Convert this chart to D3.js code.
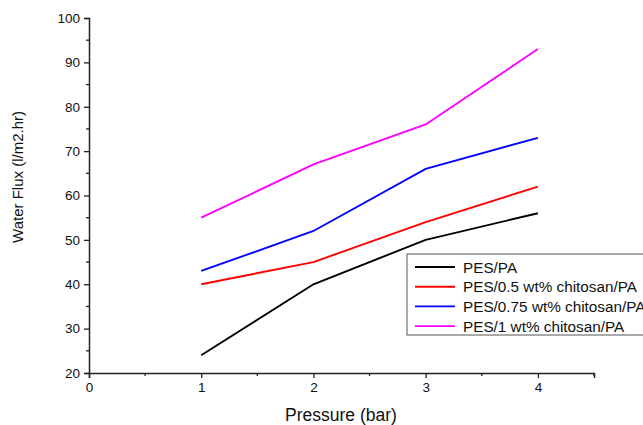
<!DOCTYPE html>
<html>
<head>
<meta charset="utf-8">
<script src="https://cdn.jsdelivr.net/npm/d3@7"></script>
<style>
  body { margin: 0; background: #fff; }
  svg { display: block; font-family: "Liberation Sans", Arial, sans-serif; }
</style>
</head>
<body>
<svg width="643" height="425"></svg>
<script>
var pressure = [1, 2, 3, 4];
var seriesNames = ["PES/PA", "PES/0.5 wt% chitosan/PA", "PES/0.75 wt% chitosan/PA", "PES/1 wt% chitosan/PA"];
var seriesColors = ["#000000", "#ff0000", "#0000ff", "#ff00ff"];
var fluxPesPa = [24, 40, 50, 56];
var flux05 = [40, 45, 54, 62];
var flux075 = [43, 52, 66, 73];
var flux1 = [55, 67, 76, 93];
var xTicks = [0, 1, 2, 3, 4];
var yTicks = [20, 30, 40, 50, 60, 70, 80, 90, 100];

var allFlux = [fluxPesPa, flux05, flux075, flux1];

var svg = d3.select("svg");

var x = d3.scaleLinear().domain([0, 4.5]).range([89, 594]);
var y = d3.scaleLinear().domain([20, 100]).range([373, 18]);

// minor ticks
var xMinor = d3.range(0.5, 4.6, 1);
var yMinor = d3.range(25, 100, 10);

svg.append("g").selectAll("line").data(xMinor).enter().append("line")
    .attr("x1", function (d) { return x(d); }).attr("x2", function (d) { return x(d); })
    .attr("y1", y(20)).attr("y2", y(20) + 3)
    .attr("stroke", "#222").attr("stroke-width", 1.3);

svg.append("g").selectAll("line").data(yMinor).enter().append("line")
    .attr("y1", function (d) { return y(d); }).attr("y2", function (d) { return y(d); })
    .attr("x1", x(0)).attr("x2", x(0) - 3)
    .attr("stroke", "#222").attr("stroke-width", 1.3);

var xAxis = d3.axisBottom(x).tickValues(xTicks).tickSize(5).tickPadding(4).tickFormat(d3.format("d"));
var yAxis = d3.axisLeft(y).tickValues(yTicks).tickSize(5).tickPadding(4);

var gx = svg.append("g").attr("transform", "translate(0," + y(20) + ")").call(xAxis);
var gy = svg.append("g").attr("transform", "translate(" + x(0) + ",0)").call(yAxis);

[gx, gy].forEach(function (g) {
    g.select(".domain").attr("stroke", "#222").attr("stroke-width", 1.5);
    g.selectAll(".tick line").attr("stroke", "#222").attr("stroke-width", 1.3);
    g.selectAll("text").style("font-size", "13.5px").attr("fill", "#111")
        .style("font-family", "'Liberation Sans', Arial, sans-serif");
});

// axis titles
svg.append("text")
    .attr("x", 341)
    .attr("y", 421)
    .attr("text-anchor", "middle")
    .style("font-size", "17.5px")
    .attr("fill", "#111")
    .text("Pressure (bar)");

svg.append("text")
    .attr("transform", "translate(23,177) rotate(-90)")
    .attr("text-anchor", "middle")
    .style("font-size", "15px")
    .attr("fill", "#111")
    .text("Water Flux (l/m2.hr)");

// lines
var line = d3.line()
    .x(function (d, i) { return x(pressure[i]); })
    .y(function (d) { return y(d); });

svg.append("g").selectAll("path").data(allFlux).enter().append("path")
    .attr("d", line)
    .attr("fill", "none")
    .attr("stroke", function (d, i) { return seriesColors[i]; })
    .attr("stroke-width", 1.9);

// legend
var legend = svg.append("g").attr("transform", "translate(407,254)");
legend.append("rect")
    .attr("width", 240).attr("height", 81)
    .attr("fill", "#fff").attr("stroke", "#555").attr("stroke-width", 1);

var items = legend.selectAll("g.item").data(seriesNames).enter().append("g")
    .attr("class", "item")
    .attr("transform", function (d, i) { return "translate(0," + (13 + i * 19.7) + ")"; });

items.append("line")
    .attr("x1", 8).attr("x2", 48)
    .attr("stroke", function (d, i) { return seriesColors[i]; })
    .attr("stroke-width", 1.9);

items.append("text")
    .attr("x", 56).attr("y", 5.5)
    .style("font-size", "15.3px")
    .attr("fill", "#111")
    .text(function (d) { return d; });
</script>
</body>
</html>
